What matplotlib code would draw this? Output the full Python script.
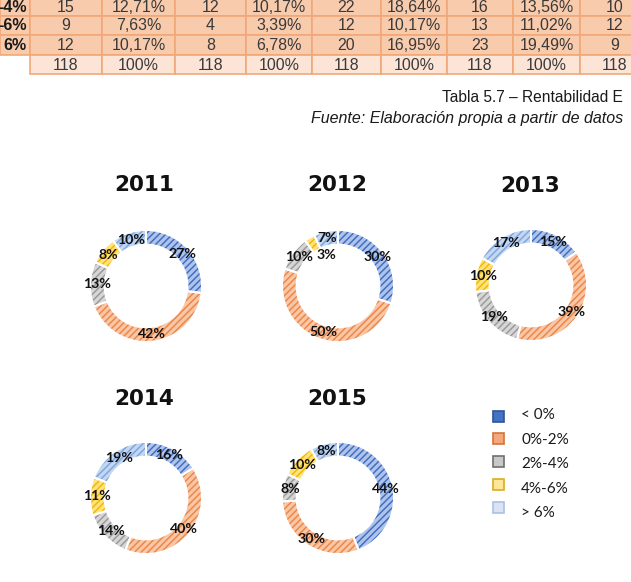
import math
import matplotlib
matplotlib.use("Agg")
import matplotlib.pyplot as plt
from matplotlib.patches import Rectangle

# ---------------- data ----------------
categories = ["< 0%", "0%-2%", "2%-4%", "4%-6%", "> 6%"]
years = ["2011", "2012", "2013", "2014", "2015"]
pct_2011 = [27, 42, 13, 8, 10]
pct_2012 = [30, 50, 10, 3, 7]
pct_2013 = [15, 39, 19, 10, 17]
pct_2014 = [16, 40, 14, 11, 19]
pct_2015 = [44, 30, 8, 10, 8]

table_row_labels = ["-4%", "-6%", "6%", ""]
table_row_2_4 = ["15", "12,71%", "12", "10,17%", "22", "18,64%", "16", "13,56%", "10"]
table_row_4_6 = ["9", "7,63%", "4", "3,39%", "12", "10,17%", "13", "11,02%", "12"]
table_row_gt6 = ["12", "10,17%", "8", "6,78%", "20", "16,95%", "23", "19,49%", "9"]
table_row_total = ["118", "100%", "118", "100%", "118", "100%", "118", "100%", "118"]

caption_title = "Tabla 5.7 \u2013 Rentabilidad E"
caption_source = "Fuente: Elaboración propia a partir de datos"

# ---------------- style ----------------
W, H, DPI = 631, 582, 100
plt.rcParams["hatch.linewidth"] = 1.05

wedge_face = ["#AFC4EC", "#F9C6A6", "#D6D6D6", "#FFE27E", "#C3D7F3"]
wedge_hatch = ["#3F6CC0", "#EC8646", "#999999", "#F2B800", "#7EA6DC"]
legend_face = ["#4472C4", "#F4A77C", "#C8C8C8", "#FFE699", "#DAE3F3"]
legend_edge = ["#2F5597", "#D4733A", "#707070", "#D9AE20", "#A9C1E6"]

table_face = "#F8CBAD"
table_total_face = "#FCE4D6"
table_edge = "#F1A878"

col_edges = [0, 30, 102, 175, 246, 312, 381, 447, 513, 580, 650]
row_edges = [-3, 16, 35, 55, 74]

donut_centers = [(146, 286), (338, 286), (531, 285), (146, 498), (338, 498)]
title_pos = [(144, 185), (337, 185), (530, 186), (144, 399), (337, 399)]
R = 56

fig = plt.figure(figsize=(W / DPI, H / DPI), dpi=DPI)
bg = fig.add_axes([0, 0, 1, 1])
bg.set_xlim(0, W)
bg.set_ylim(H, 0)
bg.axis("off")

# ---------------- table ----------------
table_font = ["Liberation Sans Narrow", "Liberation Sans", "DejaVu Sans"]
rows = [table_row_2_4, table_row_4_6, table_row_gt6, table_row_total]
for r, (lab, vals) in enumerate(zip(table_row_labels, rows)):
    y0, y1 = row_edges[r], row_edges[r + 1]
    cells = [lab] + vals
    for c, txt in enumerate(cells):
        x0, x1 = col_edges[c], col_edges[c + 1]
        if r == 3 and c == 0:
            continue
        face = table_total_face if r == 3 else table_face
        bg.add_patch(Rectangle((x0, y0), x1 - x0, y1 - y0, facecolor=face,
                               edgecolor=table_edge, lw=1.2))
        if c == 0:
            bg.text(x1 - 3, (y0 + y1) / 2 + 0.5, txt, ha="right", va="center",
                    fontsize=11.5, fontweight="bold", family=table_font, color="#1a1a1a")
        else:
            bg.text((x0 + x1) / 2, (y0 + y1) / 2 + 0.5, txt, ha="center", va="center",
                    fontsize=11.5, family=table_font, color="#3a3a3a")

cap_font = ["Liberation Sans", "DejaVu Sans"]
bg.text(623, 97, caption_title, ha="right", va="center", fontsize=11.2,
        family=cap_font, color="#1a1a1a")
bg.text(623, 118, caption_source, ha="right", va="center", fontsize=11.5,
        family=cap_font, style="italic", color="#1a1a1a")

# ---------------- donuts ----------------
lab_font = ["Lato", "DejaVu Sans"]
all_pcts = [pct_2011, pct_2012, pct_2013, pct_2014, pct_2015]
for (cx, cy), (tx, ty), year, vals in zip(donut_centers, title_pos, years, all_pcts):
    s = 2 * R * 1.06
    ax = fig.add_axes([(cx - s / 2) / W, 1 - (cy + s / 2) / H, s / W, s / H])
    wedges, texts, autotexts = ax.pie(
        vals, startangle=90, counterclock=False, radius=1,
        wedgeprops=dict(width=0.26, linewidth=0),
        autopct=lambda p: f"{p:.0f}%", pctdistance=0.87,
        textprops=dict(fontsize=10.2, fontweight="bold", family=lab_font, color="#111111"))
    for w, fc, hc in zip(wedges, wedge_face, wedge_hatch):
        w.set_facecolor(fc)
        w.set_edgecolor(hc)
        w.set_hatch("/////")
        w.set_linewidth(0)
    # very small slices: tuck the label just inside the hole so neighbours don't collide
    for v, w, t in zip(vals, wedges, autotexts):
        if v < 5:
            ang = math.radians((w.theta1 + w.theta2) / 2 - 10)
            t.set_position((0.6 * math.cos(ang), 0.6 * math.sin(ang)))
        t.set_zorder(5)
    ax.pie(vals, startangle=90, counterclock=False, radius=1,
           wedgeprops=dict(width=0.26, facecolor="none", edgecolor="white", linewidth=1.4))
    ax.set_xlim(-1.06, 1.06)
    ax.set_ylim(-1.06, 1.06)
    ax.set_aspect("equal")
    ax.axis("off")
    bg.text(tx, ty, year, ha="center", va="center", fontsize=15.5,
            fontweight="bold", family=["DejaVu Sans"], color="#111111")

# ---------------- legend ----------------
sq_x = 493
sq_size = 11
sq_y = [416, 438, 461, 484, 507]
txt_x = 521
txt_y = [415, 440, 464, 489, 513]
for cat, fc, ec, sy, ty in zip(categories, legend_face, legend_edge, sq_y, txt_y):
    bg.add_patch(Rectangle((sq_x, sy - sq_size / 2), sq_size, sq_size,
                           facecolor=fc, edgecolor=ec, lw=1.2))
    bg.text(txt_x, ty, cat, ha="left", va="center", fontsize=11,
            family=lab_font, color="#1a1a1a")

fig.savefig("out.png", dpi=DPI)
